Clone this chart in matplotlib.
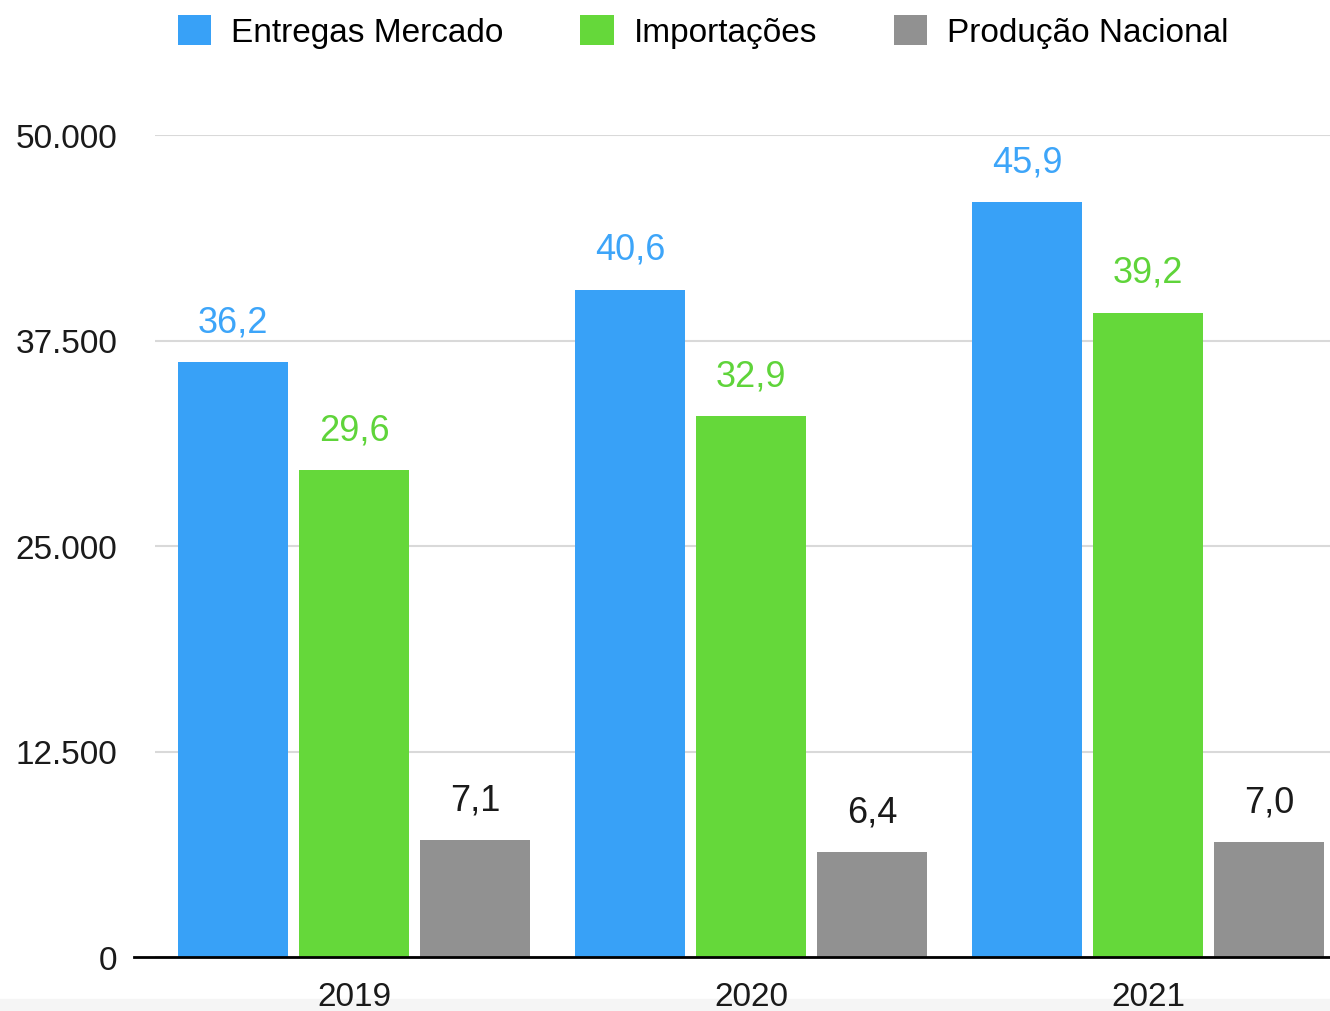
import numpy as np
import matplotlib
matplotlib.use("Agg")
import matplotlib.pyplot as plt
from matplotlib.patches import Rectangle

plt.rcParams['font.family'] = ['Liberation Sans', 'DejaVu Sans']

# data (thousands of units)
years = ["2019", "2020", "2021"]
series = ["Entregas Mercado", "Importações", "Produção Nacional"]
entregas = [36.2, 40.6, 45.9]
importacoes = [29.6, 32.9, 39.2]
producao = [7.1, 6.4, 7.0]
yticks = [0, 12500, 25000, 37500, 50000]
ytick_labels = ["0", "12.500", "25.000", "37.500", "50.000"]

bar_colors = ["#38a1f7", "#65d83a", "#919191"]
label_colors = ["#3da5f9", "#5fd43a", "#1a1a1a"]

fig = plt.figure(figsize=(13.3, 10.12), dpi=100)
ax = fig.add_axes([155 / 1330, 1 - 958 / 1012, 1 - 155 / 1330, (958 - 136) / 1012])

# light strip at the very bottom
fig.patches.append(Rectangle((0, 0), 1, 12 / 1012, transform=fig.transFigure,
                             color="#f5f5f5", zorder=-1))

x = np.arange(len(years))
width = 0.277
step = 0.305
for i, (name, vals) in enumerate(zip(series, [entregas, importacoes, producao])):
    pos = x + (i - 1) * step
    heights = [v * 1000 for v in vals]
    ax.bar(pos, heights, width, color=bar_colors[i], label=name, zorder=3)
    for p, h, v in zip(pos, heights, vals):
        ax.annotate(f"{v:.1f}".replace(".", ","), (p, h), xytext=(0, 29),
                    textcoords="offset points", ha="center", va="center",
                    fontsize=26, color=label_colors[i], annotation_clip=False)

ax.set_xlim(-0.501, 2.458)
ax.set_ylim(0, 50000)
ax.set_yticks(yticks)
ax.set_yticklabels(ytick_labels)
ax.set_xticks(x)
ax.set_xticklabels(years)
ax.tick_params(axis="y", length=0, pad=27, labelsize=24, labelcolor="#1a1a1a")
ax.tick_params(axis="x", length=0, pad=17, labelsize=24, labelcolor="#1a1a1a")
ax.grid(axis="y", color="#d9d9d9", linewidth=1.5, zorder=0)
for s in ["top", "right", "left", "bottom"]:
    ax.spines[s].set_visible(False)
ax.axhline(0, xmin=-0.018, xmax=1, color="black", linewidth=2, clip_on=False, zorder=4)

fig.legend(loc="upper left", bbox_to_anchor=(178 / 1330, 1 - 16 / 1012), ncol=3,
           frameon=False, fontsize=24, handlelength=1.0, handleheight=1.0,
           handletextpad=0.6, columnspacing=2.3, borderpad=0, borderaxespad=0)

fig.savefig("out.png", dpi=100)
